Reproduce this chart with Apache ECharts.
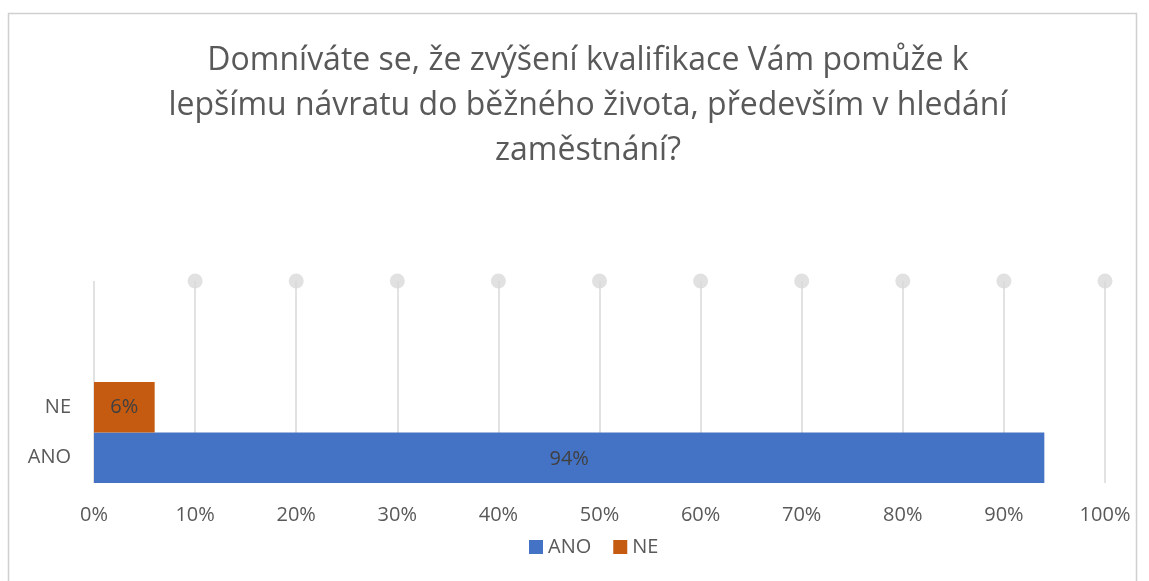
<!DOCTYPE html>
<html><head><meta charset="utf-8">
<script src="https://cdn.jsdelivr.net/npm/echarts@6/dist/echarts.min.js"></script>
<style>html,body{margin:0;padding:0;background:#fff}#c{width:1149px;height:581px}</style>
</head><body><div id="c"></div>
<script>
const titleText = 'Domníváte se, že zvýšení kvalifikace Vám pomůže k\nlepšímu návratu do běžného života, především v hledání\nzaměstnání?';
const categories = ['ANO', 'NE'];
const seriesNames = ['ANO', 'NE'];
const anoValues = [94, '-'];
const neValues = ['-', 6];
const tickValues = [10, 20, 30, 40, 50, 60, 70, 80, 90, 100];

const FONT = 'Open Sans';
const chart = echarts.init(document.getElementById('c'));
chart.setOption({
  animation: false,
  textStyle: { fontFamily: FONT },
  graphic: [{ type: 'rect', shape: { x: 8.5, y: 13.5, width: 1128, height: 600 }, style: { fill: 'none', stroke: '#d0d0d0', lineWidth: 1.5 }, silent: true }],
  title: {
    text: titleText, left: 588, top: 38, textAlign: 'center', padding: 0,
    textStyle: { fontFamily: FONT, fontSize: 32, fontWeight: 'normal', color: '#595959', lineHeight: 45 }
  },
  legend: {
    data: seriesNames, bottom: 19, left: 524, icon: 'rect', itemWidth: 14, itemHeight: 14, itemGap: 22,
    textStyle: { fontFamily: FONT, fontSize: 20, color: '#595959' }
  },
  grid: [
    { left: 94, right: 44, top: 382, bottom: 98 },
    { left: 94, right: 44, top: 281, bottom: 98 }
  ],
  xAxis: [
    { gridIndex: 0, type: 'value', min: 0, max: 100, interval: 10,
      axisLabel: { formatter: '{value}%', fontSize: 20, color: '#595959', margin: 22 },
      axisLine: { show: false }, axisTick: { show: false }, splitLine: { show: false } },
    { gridIndex: 1, type: 'value', min: 0, max: 100, interval: 10,
      axisLabel: { show: false }, axisLine: { show: false }, axisTick: { show: false },
      splitLine: { show: true, lineStyle: { color: '#d9d9d9', width: 1.5 } } }
  ],
  yAxis: [
    { gridIndex: 0, type: 'category', data: categories,
      axisLabel: { fontSize: 20, color: '#595959', margin: 23 },
      axisLine: { show: false }, axisTick: { show: false } },
    { gridIndex: 1, type: 'value', min: 0, max: 1, show: false }
  ],
  series: [
    { name: 'ANO', type: 'bar', xAxisIndex: 0, yAxisIndex: 0, data: anoValues, stack: 't',
      barCategoryGap: 0, itemStyle: { color: '#4472C4' },
      label: { show: true, position: 'inside', formatter: '{c}%', fontSize: 20, color: '#404040', offset: [0, 2] } },
    { name: 'NE', type: 'bar', xAxisIndex: 0, yAxisIndex: 0, data: neValues, stack: 't',
      barCategoryGap: 0, itemStyle: { color: '#C55A11' },
      label: { show: true, position: 'inside', formatter: '{c}%', fontSize: 20, color: '#404040' } },
    { type: 'scatter', xAxisIndex: 1, yAxisIndex: 1, data: tickValues.map(v => [v, 1]),
      symbol: 'circle', symbolSize: 15, itemStyle: { color: '#d9d9d9' }, clip: false, silent: true, z: 1 }
  ]
});
</script></body></html>
